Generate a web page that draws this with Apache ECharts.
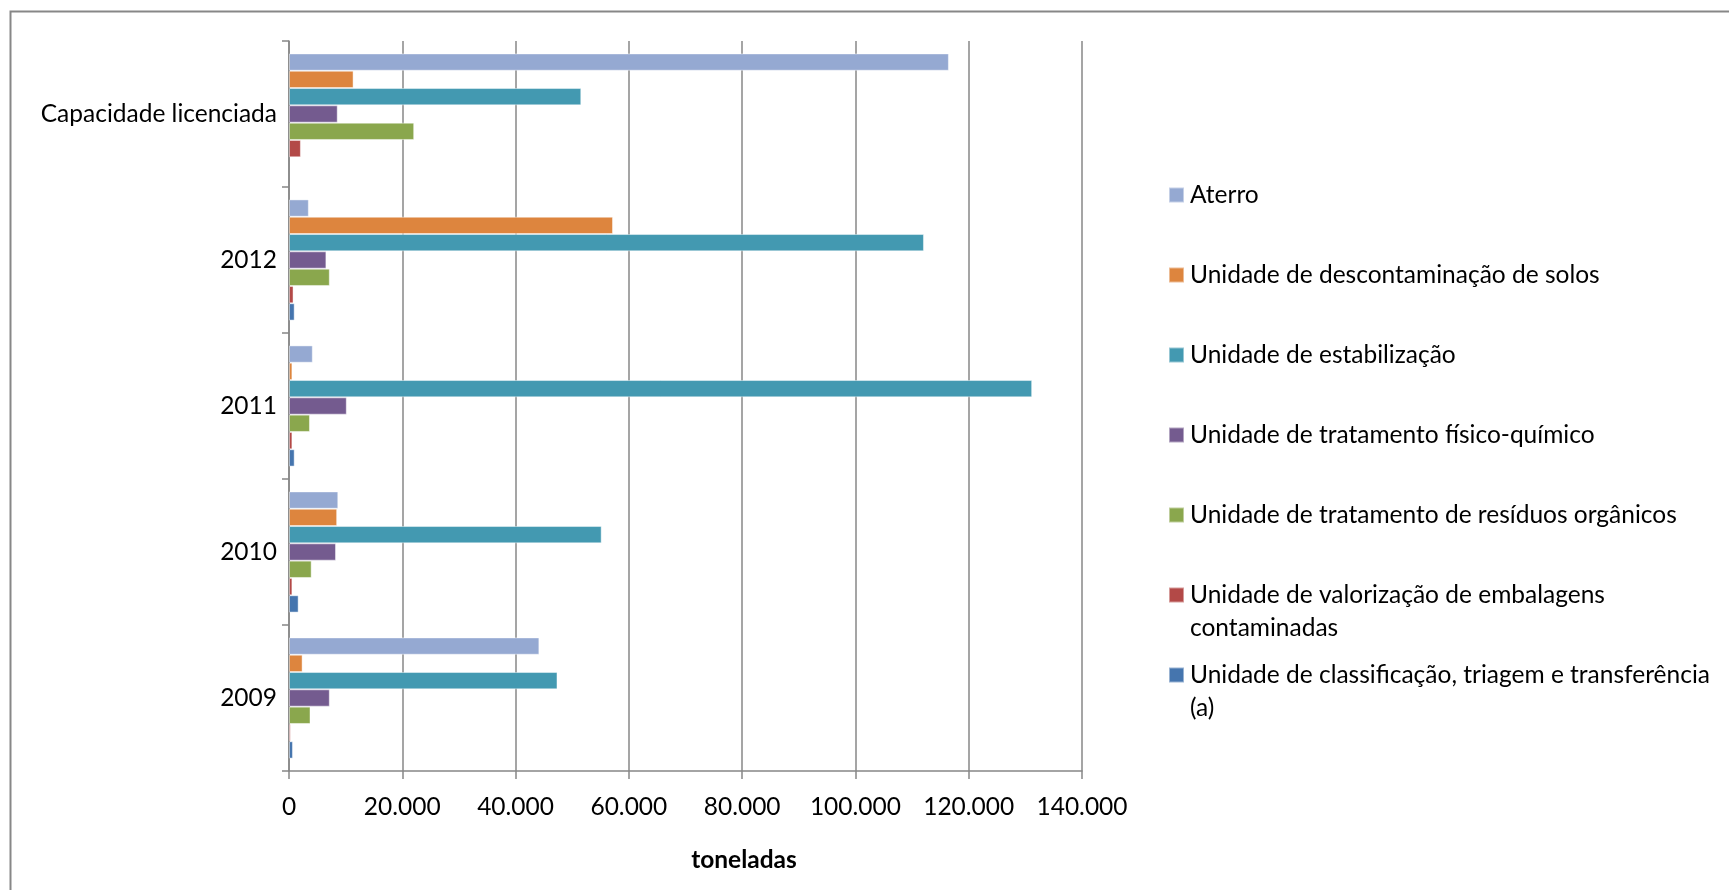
<!DOCTYPE html>
<html>
<head>
<meta charset="utf-8">
<script src="https://cdn.jsdelivr.net/npm/echarts@6/dist/echarts.min.js"></script>
<style>
  html, body { margin: 0; padding: 0; background: #fff; }
  #main { width: 1729px; height: 890px; }
</style>
</head>
<body>
<div id="main"></div>
<script>
// categorias (de baixo para cima)
var categorias = ['2009', '2010', '2011', '2012', 'Capacidade licenciada'];

// toneladas por tipo de unidade
var aterro        = [44200, 8700, 4200, 3500, 116500];
var descontamin   = [2400, 8500, 600, 57200, 11400];
var estabilizacao = [47400, 55200, 131200, 112100, 51600];
var fisicoQuimico = [7200, 8300, 10200, 6600, 8600];
var organicos     = [3800, 4000, 3700, 7200, 22100];
var valorizacao   = [300, 600, 600, 800, 2100];
var classificacao = [700, 1700, 1000, 1000, null];

var nomes = [
  'Aterro',
  'Unidade de descontaminação de solos',
  'Unidade de estabilização',
  'Unidade de tratamento físico-químico',
  'Unidade de tratamento de resíduos orgânicos',
  'Unidade de valorização de embalagens contaminadas',
  'Unidade de classificação, triagem e transferência (a)'
];
var valores = [aterro, descontamin, estabilizacao, fisicoQuimico, organicos, valorizacao, classificacao];
var cores = ['#95A9D2', '#DD853E', '#4399B1', '#745B8F', '#8AA74D', '#B34947', '#4575AE'];

var xTicks = [0, 20000, 40000, 60000, 80000, 100000, 120000, 140000];

var fonte = 'Lato';
var tam = 24.5;
var myChart = echarts.init(document.getElementById('main'));

var series = [];
for (var i = 0; i < nomes.length; i++) {
  series.push({
    name: nomes[i],
    type: 'bar',
    data: valores[i],
    barGap: '0%',
    barCategoryGap: '17%',
    itemStyle: { color: cores[i], borderColor: 'rgba(255,255,255,0.45)', borderWidth: 1 }
  });
}

// legenda: um bloco por item para manter o espaçamento do original
var centros = [195, 275, 355, 435, 515, 595, 675];
var quebras = {
  'Unidade de valorização de embalagens contaminadas': ['Unidade de valorização de embalagens', 'contaminadas'],
  'Unidade de classificação, triagem e transferência (a)': ['Unidade de classificação, triagem e transferência', '(a)']
};
var lh = 33;
var legends = [];
for (var j = 0; j < nomes.length; j++) {
  var duas = !!quebras[nomes[j]];
  legends.push({
    data: [nomes[j]],
    left: 1168,
    top: duas ? centros[j] - lh * 1.5 : centros[j] - lh / 2,
    padding: 0,
    icon: 'rect',
    itemWidth: 15,
    itemHeight: 15,
    selectedMode: false,
    formatter: function (name) {
      if (quebras[name]) return ' \n' + quebras[name][0] + '\n' + quebras[name][1];
      return name;
    },
    textStyle: { fontFamily: fonte, fontSize: tam, lineHeight: lh, color: '#000', padding: [0, 0, 0, 1] }
  });
}

var option = {
  animation: false,
  backgroundColor: '#fff',
  color: cores,
  grid: { left: 289, top: 41, width: 793, height: 730 },
  legend: legends,
  graphic: [{
    type: 'rect',
    left: 8, top: 9,
    shape: { width: 1800, height: 1000 },
    style: { fill: 'none', stroke: '#878787', lineWidth: 2 }
  }],
  xAxis: {
    type: 'value',
    min: 0,
    max: 140000,
    interval: 20000,
    name: 'toneladas',
    nameLocation: 'middle',
    nameGap: 77,
    nameTextStyle: { fontFamily: fonte, fontSize: tam, fontWeight: 'bold', color: '#000', padding: [0, 0, 0, 117] },
    axisLine: { show: true, lineStyle: { color: '#878787', width: 1.5 } },
    axisTick: { show: true, length: 8, lineStyle: { color: '#878787', width: 1.5 } },
    splitLine: { show: true, lineStyle: { color: '#878787', width: 1.5 } },
    axisLabel: {
      fontFamily: fonte, fontSize: tam, color: '#000', margin: 24,
      formatter: function (v) {
        if (xTicks.indexOf(v) < 0) return '';
        return String(v).replace(/\B(?=(\d{3})+(?!\d))/g, '.');
      }
    }
  },
  yAxis: {
    type: 'category',
    data: categorias,
    axisLine: { show: true, lineStyle: { color: '#878787', width: 1.5 } },
    axisTick: { show: true, length: 7, lineStyle: { color: '#878787', width: 1.5 } },
    axisLabel: { fontFamily: fonte, fontSize: tam, color: '#000', margin: 12 }
  },
  series: series
};

myChart.setOption(option);
window.addEventListener('resize', function () {
  myChart.resize();
});
</script>
</body>
</html>
